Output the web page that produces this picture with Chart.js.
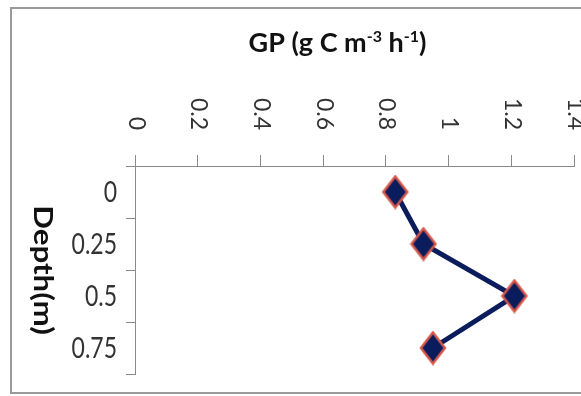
<!DOCTYPE html>
<html>
<head>
<meta charset="utf-8">
<script src="https://cdn.jsdelivr.net/npm/chart.js@4/dist/chart.umd.min.js"></script>
<style>
    html, body { margin: 0; padding: 0; background: #fff; }
</style>
</head>
<body>
<canvas id="myChart" width="581" height="396"></canvas>
<script>
const depths = ["0", "0.25", "0.5", "0.75"];
const gp = [0.83, 0.92, 1.21, 0.95];
const gpTicks = [0, 0.2, 0.4, 0.6, 0.8, 1, 1.2, 1.4];

const navy = "#0a1c5c";
const markerEdge = "#d4574a";
const axisGrey = "#8a8a8a";
const labelGrey = "#333333";

// tall diamond marker, like the Excel one
function makeDiamond() {
    const c = document.createElement("canvas");
    c.width = 28;
    c.height = 35;
    const g = c.getContext("2d");
    g.beginPath();
    g.moveTo(14, 2);
    g.lineTo(26, 17.5);
    g.lineTo(14, 33);
    g.lineTo(2, 17.5);
    g.closePath();
    g.fillStyle = navy;
    g.fill();
    g.lineWidth = 2.5;
    g.strokeStyle = markerEdge;
    g.stroke();
    return c;
}

// rotated tick labels, axis titles and the frame
const texts = {
    id: "texts",
    beforeDraw(chart) {
        const ctx = chart.ctx;
        ctx.save();
        ctx.strokeStyle = "#9a9a9a";
        ctx.lineWidth = 2;
        ctx.strokeRect(11, 8, 620, 385);
        ctx.restore();
    },
    afterDraw(chart) {
        const ctx = chart.ctx;
        const xs = chart.scales.x;
        const ys = chart.scales.y;
        ctx.save();

        // x tick labels, turned clockwise
        ctx.fillStyle = labelGrey;
        ctx.font = "23px Lato";
        ctx.textAlign = "right";
        ctx.textBaseline = "middle";
        gpTicks.forEach((v) => {
            ctx.save();
            ctx.translate(xs.getPixelForValue(v) + 1, xs.bottom - 36);
            ctx.rotate(Math.PI / 2);
            ctx.fillText(String(v), 0, 0);
            ctx.restore();
        });

        // y tick labels, a little taller than wide
        depths.forEach((d, i) => {
            ctx.save();
            ctx.translate(ys.right - 18, ys.getPixelForValue(i) + 1);
            ctx.scale(1, 1.22);
            ctx.fillText(d, 0, 0);
            ctx.restore();
        });

        // x title with superscripts
        ctx.fillStyle = "#111";
        ctx.textAlign = "left";
        ctx.textBaseline = "alphabetic";
        const big = "bold 27px Lato";
        const small = "bold 16px Lato";
        const parts = [
            ["GP (g C m", big, 0],
            ["-3", small, -10],
            [" h", big, 0],
            ["-1", small, -10],
            [")", big, 0],
        ];
        let total = 0;
        parts.forEach((p) => {
            ctx.font = p[1];
            total += ctx.measureText(p[0]).width;
        });
        let x = 337.5 - total / 2;
        parts.forEach((p) => {
            ctx.font = p[1];
            ctx.fillText(p[0], x, 52 + p[2]);
            x += ctx.measureText(p[0]).width;
        });

        // y title, turned clockwise
        ctx.save();
        ctx.translate(42, (ys.top + ys.bottom) / 2);
        ctx.rotate(Math.PI / 2);
        ctx.scale(1.2, 1);
        ctx.font = "bold 26px Lato";
        ctx.textAlign = "center";
        ctx.textBaseline = "middle";
        ctx.fillText("Depth(m)", 0, 0);
        ctx.restore();

        ctx.restore();
    },
};

Chart.defaults.font.family = "Lato";

const data = {
    labels: depths,
    datasets: [
        {
            label: "GP",
            data: gp,
            borderColor: navy,
            borderWidth: 5,
            tension: 0,
            pointStyle: makeDiamond(),
            pointRadius: 14,
        },
    ],
};

const config = {
    type: "line",
    data: data,
    options: {
        indexAxis: "y",
        responsive: false,
        animation: false,
        layout: { autoPadding: false, padding: { left: 0, top: 0, right: 7, bottom: 22 } },
        plugins: {
            legend: { display: false },
            tooltip: { enabled: false },
        },
        scales: {
            x: {
                type: "linear",
                position: "top",
                min: 0,
                max: 1.4,
                ticks: { display: false, stepSize: 0.2 },
                grid: { drawOnChartArea: false, tickLength: 11, color: axisGrey },
                border: { color: axisGrey, width: 1 },
                afterFit(scale) {
                    scale.height = 166;
                },
            },
            y: {
                type: "category",
                offset: true,
                ticks: { display: false },
                grid: { drawOnChartArea: false, offset: true, tickLength: 9, color: axisGrey },
                border: { color: axisGrey, width: 1 },
                afterFit(scale) {
                    scale.width = 135;
                },
            },
        },
    },
    plugins: [texts],
};

new Chart(document.getElementById("myChart"), config);
</script>
</body>
</html>
